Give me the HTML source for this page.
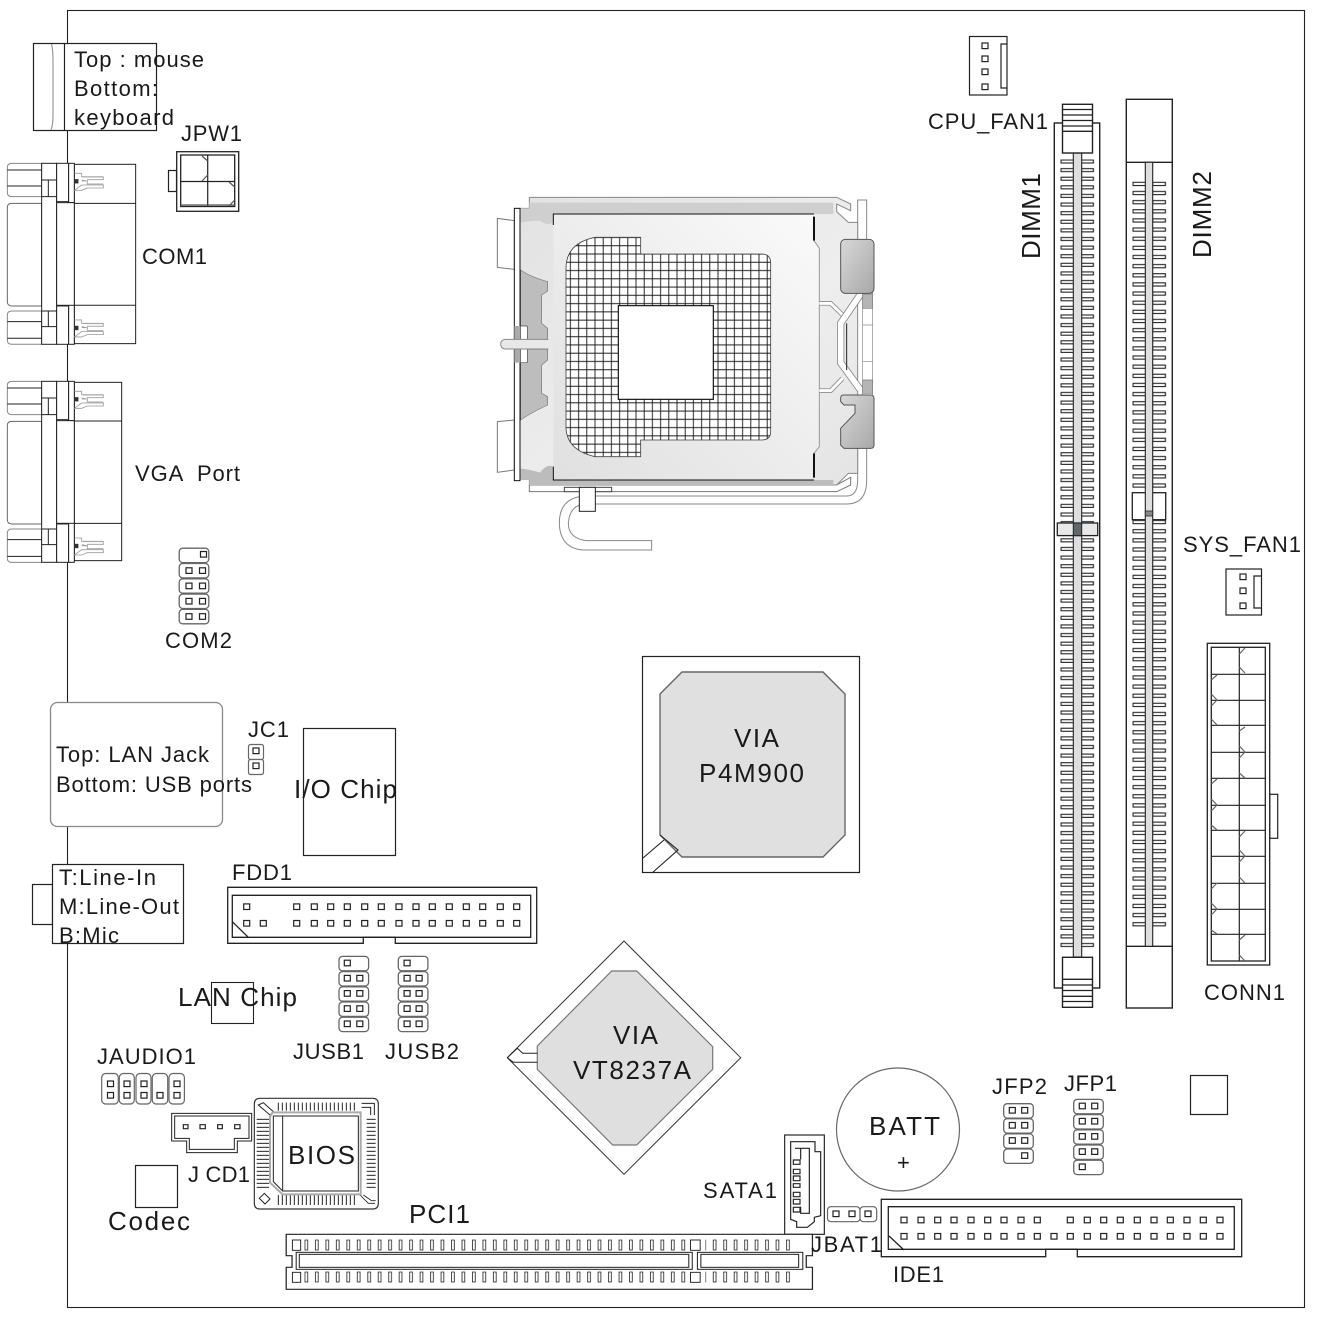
<!DOCTYPE html>
<html><head><meta charset="utf-8"><style>
html,body{margin:0;padding:0;background:#fff}
svg{display:block}
text{font-family:"Liberation Sans",sans-serif;font-size:22px;fill:#1a1a1a}
.b{font-size:26px}
</style></head><body>
<svg xmlns="http://www.w3.org/2000/svg" width="1317" height="1317" viewBox="0 0 1317 1317">
<defs>
<pattern id="t1" patternUnits="userSpaceOnUse" x="1060.3" y="159.3" width="34" height="8.61"><rect x=".7" y=".7" width="13" height="3" fill="#fff" stroke="#222" stroke-width="1.1"/><rect x="20.4" y=".7" width="12.6" height="3" fill="#fff" stroke="#222" stroke-width="1.1"/></pattern>
<pattern id="t2" patternUnits="userSpaceOnUse" x="1132.3" y="181.6" width="34" height="9.14"><rect x=".7" y=".7" width="13" height="3.2" fill="#fff" stroke="#222" stroke-width="1.1"/><rect x="20.4" y=".7" width="12.6" height="3.2" fill="#fff" stroke="#222" stroke-width="1.1"/></pattern>
<pattern id="grid" patternUnits="userSpaceOnUse" x="258.9" y="160" width="24.6" height="24.8"><path d="M12.3 0V24.8M0 12.4H24.6" stroke="#1a1a1a" stroke-width="2.8" fill="none"/></pattern>
<pattern id="pp" patternUnits="userSpaceOnUse" x="71" y="0" width="30.4" height="40"><rect x="1.5" y="2" width="8" height="30" fill="#fff" stroke="#222" stroke-width="2.4"/></pattern>
<pattern id="bh" patternUnits="userSpaceOnUse" x="562" y="0" width="12" height="10"><path d="M3 0V10" stroke="#222" stroke-width="3"/></pattern>
<pattern id="bv" patternUnits="userSpaceOnUse" x="0" y="175" width="10" height="12"><path d="M0 3H10" stroke="#222" stroke-width="3"/></pattern>
<linearGradient id="gl" x1="0" y1="0" x2="1" y2="1"><stop offset="0" stop-color="#e2e2e2"/><stop offset=".6" stop-color="#eeeeee"/><stop offset="1" stop-color="#e4e4e4"/></linearGradient>
<linearGradient id="gp" x1="0" y1="1" x2="1" y2="0"><stop offset="0" stop-color="#e0e0e0"/><stop offset="1" stop-color="#fafafa"/></linearGradient>
<linearGradient id="gc" x1="0" y1="0" x2="1" y2="1"><stop offset="0" stop-color="#d8d8d8"/><stop offset="1" stop-color="#a8a8a8"/></linearGradient>
<g id="port" fill="#fff" stroke="#222" stroke-width="3">
<path d="M125 400H36Q22 400 22 412V488Q22 500 36 500H125Z" stroke="#888"/><path d="M22 420H125M22 468H125" fill="none"/>
<path d="M125 520H36Q22 520 22 532V815Q22 828 36 828H125Z" stroke="#666"/>
<path d="M125 843H36Q22 843 22 855V931Q22 943 36 943H125Z" stroke="#888"/><path d="M22 875H125M22 925H125" fill="none"/>
<rect x="125" y="400" width="45" height="543"/><path d="M125 450H170M145 450V500M125 500H170M125 843H170M145 843V890M125 890H170" fill="none"/>
<rect x="170" y="400" width="36" height="115"/><rect x="170" y="828" width="36" height="115"/>
<rect x="206" y="400" width="17" height="118"/><rect x="206" y="825" width="17" height="118"/>
<rect x="170" y="518" width="53" height="308"/>
</g>
<g id="pin" fill="#fff"><path d="M223 430H245V440H310M245 450L260 453H245M245 465H310V474H262L245 481H223Z" stroke="#999" stroke-width="2.5"/><path d="M248 441H310V449H262L262 462H310" fill="none" stroke="#aaa" stroke-width="3"/><rect x="223" y="448" width="12" height="12" fill="#333" stroke="#333"/></g>
<g id="cell"><rect x=".7" y=".7" width="29.6" height="14.4" rx="3.5" fill="#fff" stroke="#666" stroke-width="1.3"/></g>
<rect id="p" width="6" height="5.6" fill="#fff" stroke="#222" stroke-width="1.2"/>
</defs>
<rect width="1317" height="1317" fill="#fff"/>
<rect x="67.5" y="10.5" width="1237" height="1297" fill="#fff" stroke="#222" stroke-width="1.1"/>

<!-- PS/2 -->
<rect x="33.5" y="43.5" width="123" height="87" fill="#fff" stroke="#222" stroke-width="1.2"/>
<path d="M51.5 44Q53 50 53 60V115Q53 125 51 130" fill="none" stroke="#999" stroke-width="1.2"/>
<path d="M64.5 44V130" stroke="#222" stroke-width="1.2"/>

<!-- COM1 -->
<g transform="translate(0,30) scale(.3333)">
<rect x="223" y="403" width="184" height="538" fill="#fff" stroke="#222" stroke-width="3"/><path d="M223 520H407M223 826H407" stroke="#222" stroke-width="3"/>
<use href="#port"/><use href="#pin"/><use href="#pin" y="440"/>
</g>
<!-- VGA -->
<g transform="translate(0,370) scale(.3333)">
<rect x="223" y="37" width="142" height="535" fill="#fff" stroke="#222" stroke-width="3"/><path d="M223 153H365M223 460H365" stroke="#222" stroke-width="3"/>
<g transform="translate(0,-366)"><use href="#port"/><use href="#pin"/><use href="#pin" y="440"/></g>
</g>

<!-- JPW1 -->
<rect x="168.5" y="170.5" width="8" height="21" fill="#fff" stroke="#222" stroke-width="1.2"/>
<rect x="176.7" y="151.7" width="62" height="59.6" fill="#fff" stroke="#222" stroke-width="1.3"/>
<rect x="180.7" y="155" width="54" height="51.5" fill="#fff" stroke="#222" stroke-width="1.3"/>
<path d="M207.7 155V206.5M180.7 181.5H234.7" stroke="#222" stroke-width="1.2"/>
<path d="M202 156L207.7 161M202 181L207.7 175M229 182L234.7 187M229 206L234.7 200M180.7 205H234.7" fill="none" stroke="#555" stroke-width="1.2"/>

<!-- CPU socket -->
<g transform="translate(480,180) scale(.33333)">
<rect x="1133" y="60" width="27" height="130" fill="#fff" stroke="#888" stroke-width="3"/>
<path d="M1160 800V900Q1160 972 1100 972H340V948H1100Q1133 948 1133 900V800Z" fill="#fff" stroke="#888" stroke-width="3"/>
<path d="M148 915V935H1070L1112 915V892L1070 915" fill="#fff" stroke="#777" stroke-width="3"/>
<rect x="253" y="922" width="142" height="13" fill="#fff" stroke="#444" stroke-width="3"/>
<path d="M300 950Q238 960 238 1030Q240 1105 310 1110H515V1082H320Q265 1075 265 1030Q268 985 300 975Z" fill="#fff" stroke="#888" stroke-width="3"/>
<path d="M148 52H1070L1112 72V92L1070 72V95L1105 127H1133V880H1105L1070 915H148V890H120V85H148Z" fill="url(#gl)" stroke="#888" stroke-width="3"/>
<path d="M120 85H148V68H1060V102H220V128Q200 138 180 122Q150 122 122 128Z" fill="#cfcfcf"/>
<path d="M122 866Q150 868 180 878Q200 850 220 860V900H1060V915H148V900H122Z" fill="#bcbcbc"/>
<path d="M52 115L103 122V268L52 262Z M52 725L103 720V870L52 877Z" fill="#fff" stroke="#777" stroke-width="3"/>
<path d="M122 270Q150 290 203 305V333L185 345V430L203 445V478H142V438H122Z" fill="#bdbdbd" stroke="#777" stroke-width="2"/>
<path d="M122 720Q150 700 203 675V650L185 640V555L203 540V508H142V548H122Z" fill="#bdbdbd" stroke="#777" stroke-width="2"/>
<rect x="103" y="85" width="17" height="817" fill="#fff" stroke="#111" stroke-width="3"/>
<rect x="103" y="438" width="19" height="110" fill="#aaa"/>
<rect x="122" y="438" width="20" height="110" rx="3" fill="#fff" stroke="#555" stroke-width="2"/>
<path d="M205 478H75Q62 480 62 492Q62 505 75 507H205" fill="#e8e8e8" stroke="#888" stroke-width="3"/>
<path d="M220 102H1002V182L1018 205V800L1002 820V900H220Z" fill="url(#gp)"/>
<path d="M1002 182L1018 205V800L1002 820" fill="none" stroke="#999" stroke-width="3"/>
<path d="M220 135V102H1002M220 860V900H1002" fill="none" stroke="#111" stroke-width="3"/>
<path d="M1002 110V182M1002 820V893" stroke="#111" stroke-width="6"/>
<path d="M345 172H482V222H845Q872 222 872 250V755Q872 780 845 780H482V830H345Q258 810 258 740V265Q258 190 345 172Z" fill="#fff"/>
<path d="M345 172H482V222H845Q872 222 872 250V755Q872 780 845 780H482V830H345Q258 810 258 740V265Q258 190 345 172Z" fill="url(#grid)" stroke="#444" stroke-width="2.5"/>
<rect x="415" y="377" width="285" height="281" fill="#fff" stroke="#111" stroke-width="3.5"/>
<path d="M1018 370H1052L1088 405M1018 632H1052L1088 595" fill="none" stroke="#888" stroke-width="14"/>
<path d="M1018 370H1052L1088 405M1018 632H1052L1088 595" fill="none" stroke="#fff" stroke-width="9"/>
<rect x="1148" y="338" width="30" height="310" fill="#fff" stroke="#888" stroke-width="2"/>
<path d="M1148 342H1178V385H1148ZM1148 600H1178V640H1148Z" fill="#b5b5b5" stroke="#777" stroke-width="2"/>
<path d="M1148 435H1178M1148 545H1178" stroke="#888" stroke-width="2"/>
<path d="M1140 345L1082 430V548L1140 628" fill="none" stroke="#888" stroke-width="22"/>
<path d="M1140 345L1082 430V548L1140 628" fill="none" stroke="#fff" stroke-width="17"/>
<path d="M1100 430V570" stroke="#222" stroke-width="3"/>
<rect x="1082" y="178" width="100" height="162" rx="14" fill="url(#gc)" stroke="#555" stroke-width="3"/>
<path d="M1090 645H1172Q1182 645 1182 655V795Q1182 805 1172 805H1092L1082 795V745L1125 700V675H1092L1082 665V655Q1082 645 1090 645Z" fill="url(#gc)" stroke="#555" stroke-width="3"/>
<rect x="298" y="922" width="48" height="72" fill="#fff" stroke="#222" stroke-width="3"/>
</g>

<!-- CPU fan -->
<rect x="969.5" y="36.5" width="37.5" height="58.5" fill="#fff" stroke="#222" stroke-width="1.2"/>
<path d="M1007 44H1001V88H1007" fill="none" stroke="#222" stroke-width="1.2"/>
<use href="#p" x="982" y="43"/><use href="#p" x="982" y="56"/><use href="#p" x="982" y="69"/><use href="#p" x="982" y="84"/>

<!-- DIMM1 -->
<rect x="1054.3" y="123" width="45.4" height="865" fill="#fff" stroke="#222" stroke-width="1.4"/>
<rect x="1060.3" y="159.3" width="34" height="790" fill="url(#t1)"/>
<rect x="1073.3" y="153" width="8.4" height="804" fill="#dedede" stroke="#222" stroke-width="1.1"/>
<rect x="1057.3" y="523" width="40.4" height="12.6" fill="#e8e8e8" stroke="#222" stroke-width="1.3"/>
<rect x="1073.3" y="523" width="8.4" height="12.6" fill="#60666a" stroke="#222" stroke-width="1"/>
<rect x="1062.5" y="104.3" width="30" height="48.7" fill="#fff" stroke="#222" stroke-width="1.4"/>
<path d="M1062.5 109.5H1092.5M1062.5 115H1092.5M1062.5 120.5H1092.5M1062.5 126H1092.5M1062.5 131.3H1092.5" stroke="#222" stroke-width="1.3"/>
<rect x="1062.5" y="957.3" width="30" height="50" fill="#fff" stroke="#222" stroke-width="1.4"/>
<path d="M1062.5 979.3H1092.5M1062.5 985H1092.5M1062.5 990.5H1092.5M1062.5 996.3H1092.5M1062.5 1001.5H1092.5" stroke="#222" stroke-width="1.3"/>

<!-- DIMM2 -->
<rect x="1126.3" y="99.3" width="46" height="908.7" fill="#fff" stroke="#222" stroke-width="1.4"/>
<path d="M1126.3 162.3H1172.3M1126.3 946.3H1172.3" stroke="#222" stroke-width="1.4"/>
<rect x="1132.3" y="181.6" width="34" height="748" fill="url(#t2)"/>
<rect x="1132.3" y="492.7" width="33.4" height="27" fill="#fff" stroke="#222" stroke-width="1.3"/>
<rect x="1145.3" y="162.3" width="7.4" height="784" fill="#dedede" stroke="#222" stroke-width="1.1"/>
<rect x="1145.3" y="511" width="7.4" height="5" fill="#888" stroke="#222" stroke-width=".8"/>

<!-- SYS fan -->
<rect x="1226" y="569" width="35.5" height="46" fill="#fff" stroke="#222" stroke-width="1.2"/>
<path d="M1261.5 576H1254V608H1261.5" fill="none" stroke="#222" stroke-width="1.2"/>
<use href="#p" x="1240" y="574"/><use href="#p" x="1240" y="588"/><use href="#p" x="1240" y="603"/>

<!-- CONN1 -->
<rect x="1269.7" y="794.3" width="8" height="44" fill="#fff" stroke="#222" stroke-width="1.2"/>
<rect x="1207.3" y="643.3" width="62.4" height="321.7" fill="#fff" stroke="#222" stroke-width="1.3"/>
<rect x="1211.3" y="647.3" width="54" height="313.7" fill="#fff" stroke="#222" stroke-width="1.3"/>
<path d="M1239.3 647V961M1211.3 674.3H1265.3M1211.3 700.3H1265.3M1211.3 725.3H1265.3M1211.3 752.3H1265.3M1211.3 778.3H1265.3M1211.3 805.3H1265.3M1211.3 830.3H1265.3M1211.3 856.3H1265.3M1211.3 883.3H1265.3M1211.3 909.3H1265.3M1211.3 934.3H1265.3" stroke="#222" stroke-width="1.2"/>
<path d="M1239.3 654L1245 648M1239.3 667L1245 673M1211.3 680L1217 675M1211.3 694L1217 700L1211.3 706M1211.3 719L1217 725M1239.3 731L1245 727M1239.3 746L1245 752L1239.3 758M1239.3 773L1245 778M1211.3 784L1217 779M1211.3 799L1217 805L1211.3 811M1211.3 825L1217 830M1239.3 837L1245 831M1239.3 850L1245 856L1239.3 862M1239.3 877L1245 883M1211.3 889L1217 883M1211.3 903L1217 909L1211.3 915M1211.3 930L1217 934M1239.3 940L1245 935M1239.3 955L1245 961" fill="none" stroke="#666" stroke-width="1.2"/>

<!-- COM2 -->
<g transform="translate(178.5,547.5)"><use href="#cell"/><use href="#p" x="22" y="4"/></g>
<g transform="translate(178.5,562.8)"><use href="#cell"/><use href="#p" x="7.5" y="5"/><use href="#p" x="21" y="5"/></g>
<g transform="translate(178.5,578.1)"><use href="#cell"/><use href="#p" x="7.5" y="5"/><use href="#p" x="21" y="5"/></g>
<g transform="translate(178.5,593.4)"><use href="#cell"/><use href="#p" x="7.5" y="5"/><use href="#p" x="21" y="5"/></g>
<g transform="translate(178.5,608.7)"><use href="#cell"/><use href="#p" x="7.5" y="5"/><use href="#p" x="21" y="5"/></g>

<!-- LAN jack -->
<rect x="50.5" y="702.5" width="172" height="124" rx="7" fill="#fff" stroke="#888" stroke-width="1.3"/>
<!-- JC1 -->
<rect x="248.5" y="744.5" width="15" height="15" rx="2" fill="#fff" stroke="#666" stroke-width="1.2"/>
<rect x="248.5" y="759.5" width="15" height="15" rx="2" fill="#fff" stroke="#666" stroke-width="1.2"/>
<use href="#p" x="253" y="748"/><use href="#p" x="253" y="763"/>
<!-- IO chip -->
<rect x="303.5" y="728.5" width="92" height="127" fill="#fff" stroke="#222" stroke-width="1.2"/>

<!-- P4M900 -->
<rect x="642.5" y="656.5" width="217" height="216" fill="#fff" stroke="#222" stroke-width="1.2"/>
<path d="M660 694L682 672H823L845 694V835L823 857H682L660 835Z" fill="#e0e0e0" stroke="#666" stroke-width="1.4"/>
<path d="M643 858L664 840M652 873L678 850L660 835" fill="none" stroke="#222" stroke-width="1.1"/>

<!-- Audio -->
<rect x="32.5" y="884.5" width="20" height="40" fill="#fff" stroke="#222" stroke-width="1.2"/>
<rect x="52.5" y="864.5" width="131" height="79" fill="#fff" stroke="#222" stroke-width="1.2"/>

<!-- FDD -->
<path d="M227.7 887.3H536.7V943.3H395.3V937.3H363.3V943.3H227.7Z" fill="#fff" stroke="#222" stroke-width="1.3"/>
<path d="M232.3 895.3H530.7V937.3H232.3Z M232.3 921.7L248.3 937.3" fill="none" stroke="#222" stroke-width="1.3"/>
<g transform="translate(-3,-2.8)">
<use href="#p" x="246.7" y="906.7"/><use href="#p" x="296.7" y="906.7"/><use href="#p" x="314.3" y="906.7"/><use href="#p" x="330.7" y="906.7"/><use href="#p" x="347.3" y="906.7"/><use href="#p" x="364.7" y="906.7"/><use href="#p" x="381.3" y="906.7"/><use href="#p" x="399" y="906.7"/><use href="#p" x="416" y="906.7"/><use href="#p" x="432.3" y="906.7"/><use href="#p" x="449.3" y="906.7"/><use href="#p" x="466.3" y="906.7"/><use href="#p" x="482.7" y="906.7"/><use href="#p" x="500.3" y="906.7"/><use href="#p" x="516.7" y="906.7"/>
<use href="#p" x="246.7" y="923.3"/><use href="#p" x="263.3" y="923.3"/><use href="#p" x="296.7" y="923.3"/><use href="#p" x="314.3" y="923.3"/><use href="#p" x="330.7" y="923.3"/><use href="#p" x="347.3" y="923.3"/><use href="#p" x="364.7" y="923.3"/><use href="#p" x="381.3" y="923.3"/><use href="#p" x="399" y="923.3"/><use href="#p" x="416" y="923.3"/><use href="#p" x="432.3" y="923.3"/><use href="#p" x="449.3" y="923.3"/><use href="#p" x="466.3" y="923.3"/><use href="#p" x="482.7" y="923.3"/><use href="#p" x="500.3" y="923.3"/><use href="#p" x="516.7" y="923.3"/>
</g>

<!-- JUSB1 -->
<g transform="translate(338.3,955.7)"><use href="#cell"/><use href="#p" x="6" y="4.5"/></g>
<g transform="translate(338.3,970.9)"><use href="#cell"/><use href="#p" x="6" y="4.5"/><use href="#p" x="18.5" y="4.5"/></g>
<g transform="translate(338.3,986.1)"><use href="#cell"/><use href="#p" x="6" y="4.5"/><use href="#p" x="18.5" y="4.5"/></g>
<g transform="translate(338.3,1001.3)"><use href="#cell"/><use href="#p" x="6" y="4.5"/><use href="#p" x="18.5" y="4.5"/></g>
<g transform="translate(338.3,1016.5)"><use href="#cell"/><use href="#p" x="6" y="4.5"/><use href="#p" x="18.5" y="4.5"/></g>
<!-- JUSB2 -->
<g transform="translate(397.6,955.7)"><use href="#cell"/><use href="#p" x="6.5" y="4.5"/></g>
<g transform="translate(397.6,970.9)"><use href="#cell"/><use href="#p" x="6.5" y="4.5"/><use href="#p" x="18.5" y="4.5"/></g>
<g transform="translate(397.6,986.1)"><use href="#cell"/><use href="#p" x="6.5" y="4.5"/><use href="#p" x="18.5" y="4.5"/></g>
<g transform="translate(397.6,1001.3)"><use href="#cell"/><use href="#p" x="6.5" y="4.5"/><use href="#p" x="18.5" y="4.5"/></g>
<g transform="translate(397.6,1016.5)"><use href="#cell"/><use href="#p" x="6.5" y="4.5"/><use href="#p" x="18.5" y="4.5"/></g>

<!-- VT8237A -->
<path d="M624 941L740.7 1057.7L624 1174.3L507.3 1057.7Z" fill="#fff" stroke="#333" stroke-width="1"/>
<path d="M611.7 971H636.7L712.7 1046.7V1069.3L636.7 1145H612.7L537.3 1069.3V1046L611.7 971Z" fill="#dfdfdf" stroke="#777" stroke-width="1.2"/>
<path d="M507.3 1057.7L517.3 1048.3L522.7 1053.3H537.3M507.3 1057.7L513.3 1062.3H537.3" fill="none" stroke="#222" stroke-width="1"/>

<!-- LAN chip -->
<rect x="211.5" y="982.5" width="42" height="41" fill="#fff" stroke="#222" stroke-width="1.1"/>

<!-- JAUDIO1 -->
<g fill="#fff" stroke="#666" stroke-width="1.2">
<rect x="101.7" y="1073.5" width="16.6" height="30.5" rx="4"/><rect x="119.3" y="1073.5" width="15" height="30.5" rx="4"/><rect x="136" y="1073.5" width="15" height="30.5" rx="4"/><rect x="152.3" y="1073.5" width="15.4" height="30.5" rx="4"/><rect x="169" y="1073.5" width="15.4" height="30.5" rx="4"/>
</g>
<use href="#p" x="107.5" y="1081"/><use href="#p" x="107.5" y="1092.5"/><use href="#p" x="124" y="1081"/><use href="#p" x="124" y="1092.5"/><use href="#p" x="141" y="1081"/><use href="#p" x="141" y="1092.5"/><use href="#p" x="157" y="1092.5"/><use href="#p" x="174" y="1081"/><use href="#p" x="174" y="1092.5"/>

<!-- JCD1 -->
<g transform="translate(90,1060) scale(.33333)">
<path d="M245 160H485V243H442V278H290V243H245Z" fill="#fff" stroke="#222" stroke-width="3"/>
<path d="M254 168H477V235H433V268H298V235H254Z" fill="none" stroke="#222" stroke-width="3"/>
<path d="M280 194H294V206H280ZM330 194H346V206H330ZM383 194H397V206H383ZM434 194H450V206H434Z" fill="#fff" stroke="#222" stroke-width="3.6"/>
<!-- BIOS -->
<path d="M510 115H848Q865 115 865 132V430Q865 447 848 447H510Q493 447 493 430V132Q493 115 510 115Z" fill="#fff" stroke="#333" stroke-width="3.5"/>
<rect x="562" y="128" width="235" height="24" fill="url(#bh)"/>
<rect x="562" y="405" width="235" height="30" fill="url(#bh)"/>
<rect x="500" y="175" width="37" height="210" fill="url(#bv)"/>
<rect x="830" y="175" width="27" height="210" fill="url(#bv)"/>
<path d="M505 135L520 128L550 155L540 165Z" fill="#fff" stroke="#222" stroke-width="3"/>
<path d="M815 130H853V165M815 142H842V165" fill="none" stroke="#222" stroke-width="3"/>
<path d="M508 415L523 400L540 417L525 432Z" fill="#fff" stroke="#222" stroke-width="3"/>
<path d="M810 405L835 430H855M820 405L845 422H857" fill="none" stroke="#222" stroke-width="2.5"/>
<path d="M548 157H812V403H578L540 368V170Z" fill="#fff" stroke="#aaa" stroke-width="6"/>
<path d="M550 168H805V393H578L550 365Z M578 168V393" fill="none" stroke="#222" stroke-width="3"/>
</g>

<!-- Codec -->
<rect x="135.5" y="1165.5" width="42" height="42" fill="#fff" stroke="#222" stroke-width="1.2"/>

<!-- BATT -->
<circle cx="898" cy="1129.5" r="61.5" fill="#fff" stroke="#666" stroke-width="1.2"/>

<!-- JFP2 -->
<g transform="translate(1003,1103)"><use href="#cell"/><use href="#p" x="6.3" y="4.5"/><use href="#p" x="18.7" y="4.5"/></g>
<g transform="translate(1003,1118)"><use href="#cell"/><use href="#p" x="6.3" y="4.5"/><use href="#p" x="18.7" y="4.5"/></g>
<g transform="translate(1003,1133.2)"><use href="#cell"/><use href="#p" x="6.3" y="4.5"/><use href="#p" x="18.7" y="4.5"/></g>
<g transform="translate(1003,1148.3)"><use href="#cell"/><use href="#p" x="18.7" y="4.5"/></g>
<!-- JFP1 -->
<g transform="translate(1073,1098.7)"><use href="#cell"/><use href="#p" x="6.3" y="4.5"/><use href="#p" x="18.7" y="4.5"/></g>
<g transform="translate(1073,1113.9)"><use href="#cell"/><use href="#p" x="6.3" y="4.5"/><use href="#p" x="18.7" y="4.5"/></g>
<g transform="translate(1073,1129.1)"><use href="#cell"/><use href="#p" x="6.3" y="4.5"/><use href="#p" x="18.7" y="4.5"/></g>
<g transform="translate(1073,1144.3)"><use href="#cell"/><use href="#p" x="6.3" y="4.5"/><use href="#p" x="18.7" y="4.5"/></g>
<g transform="translate(1073,1159.5)"><use href="#cell"/><use href="#p" x="6.3" y="4.5"/></g>

<rect x="1190.5" y="1075.5" width="37" height="39" fill="#fff" stroke="#222" stroke-width="1.2"/>

<!-- SATA -->
<g transform="translate(780,1130) scale(.33333)">
<rect x="14" y="15" width="119" height="298" fill="#fff" stroke="#222" stroke-width="3.5"/>
<path d="M32 35H105V65H122V257L103 262V275L82 292H50V275L32 268Z" fill="#fff" stroke="#222" stroke-width="3.5"/>
<path d="M45 55H88V250H62V230M62 88V55" fill="none" stroke="#222" stroke-width="3.5"/>
<path d="M40 90H60V103H40ZM40 118H60V131H40ZM40 138H60V152H40ZM40 161H60V172H40ZM40 187H60V200H40ZM40 208H60V222H40ZM40 232H60V246H40Z" fill="#fff" stroke="#222" stroke-width="3.5"/>
</g>

<!-- JBAT1 -->
<rect x="827.5" y="1206.7" width="32.5" height="15" rx="3.5" fill="#fff" stroke="#666" stroke-width="1.2"/>
<rect x="860" y="1206.7" width="16.7" height="15" rx="3.5" fill="#fff" stroke="#666" stroke-width="1.2"/>
<use href="#p" x="833" y="1211"/><use href="#p" x="849" y="1211"/><use href="#p" x="865" y="1211"/>

<!-- IDE -->
<path d="M881.3 1199.3H1241.7V1256.7H1077.3V1249.3H1045.7V1256.7H881.3Z" fill="#fff" stroke="#222" stroke-width="1.3"/>
<path d="M888.3 1206.7H1234.3V1249.3H888.3Z M889 1236L904 1250" fill="none" stroke="#222" stroke-width="1.3"/>
<g transform="translate(-3,-2.8)">
<use href="#p" x="904" y="1220"/><use href="#p" x="921" y="1220"/><use href="#p" x="937.7" y="1220"/><use href="#p" x="954" y="1220"/><use href="#p" x="971" y="1220"/><use href="#p" x="987.7" y="1220"/><use href="#p" x="1004" y="1220"/><use href="#p" x="1021" y="1220"/><use href="#p" x="1037.3" y="1220"/><use href="#p" x="1070.3" y="1220"/><use href="#p" x="1087.3" y="1220"/><use href="#p" x="1103.7" y="1220"/><use href="#p" x="1120.3" y="1220"/><use href="#p" x="1137.3" y="1220"/><use href="#p" x="1154" y="1220"/><use href="#p" x="1170.3" y="1220"/><use href="#p" x="1187" y="1220"/><use href="#p" x="1203.3" y="1220"/><use href="#p" x="1220" y="1220"/>
<use href="#p" x="904" y="1236.3"/><use href="#p" x="921" y="1236.3"/><use href="#p" x="937.7" y="1236.3"/><use href="#p" x="954" y="1236.3"/><use href="#p" x="971" y="1236.3"/><use href="#p" x="987.7" y="1236.3"/><use href="#p" x="1004" y="1236.3"/><use href="#p" x="1021" y="1236.3"/><use href="#p" x="1037.3" y="1236.3"/><use href="#p" x="1054" y="1236.3"/><use href="#p" x="1070.3" y="1236.3"/><use href="#p" x="1087.3" y="1236.3"/><use href="#p" x="1103.7" y="1236.3"/><use href="#p" x="1120.3" y="1236.3"/><use href="#p" x="1137.3" y="1236.3"/><use href="#p" x="1154" y="1236.3"/><use href="#p" x="1170.3" y="1236.3"/><use href="#p" x="1187" y="1236.3"/><use href="#p" x="1203.3" y="1236.3"/><use href="#p" x="1220" y="1236.3"/>
</g>

<!-- PCI -->
<g transform="translate(280,1225) scale(.3444,.3333)">
<path d="M18 28H1546V92H1528V127H1546V193H18V127H35V92H18Z" fill="#fff" stroke="#222" stroke-width="3.6"/>
<rect x="36" y="45" width="24" height="31" fill="#fff" stroke="#222" stroke-width="2.8"/>
<rect x="36" y="142" width="24" height="30" fill="#fff" stroke="#222" stroke-width="2.8"/>
<rect x="1192" y="45" width="28" height="31" fill="#fff" stroke="#222" stroke-width="2.8"/>
<rect x="1192" y="142" width="28" height="30" fill="#fff" stroke="#222" stroke-width="2.8"/>
<g transform="translate(0,43)"><rect x="71" y="0" width="1107" height="36" fill="url(#pp)"/><rect x="1235" y="0" width="262" height="36" fill="url(#pp)"/></g>
<g transform="translate(0,139)"><rect x="71" y="0" width="1107" height="36" fill="url(#pp)"/><rect x="1235" y="0" width="262" height="36" fill="url(#pp)"/></g>
<rect x="47" y="82" width="1150" height="51" fill="#fff" stroke="#222" stroke-width="3"/><rect x="56" y="88" width="1131" height="39" fill="#fff" stroke="#222" stroke-width="3"/>
<rect x="1212" y="82" width="306" height="51" fill="#fff" stroke="#222" stroke-width="3"/><rect x="1222" y="88" width="284" height="39" fill="#fff" stroke="#222" stroke-width="3"/>
</g>

<!-- Text -->
<text x="74" y="67" textLength="130">Top : mouse</text>
<text x="74" y="96" textLength="84">Bottom:</text>
<text x="74" y="125" textLength="100">keyboard</text>
<text x="181" y="141" textLength="61">JPW1</text>
<text x="142" y="264" textLength="65">COM1</text>
<text x="135" y="481" textLength="105" xml:space="preserve">VGA  Port</text>
<text x="165" y="648" textLength="67">COM2</text>
<text x="248" y="737" textLength="41">JC1</text>
<text x="56" y="762" textLength="153">Top: LAN Jack</text>
<text x="56" y="792" textLength="196">Bottom: USB ports</text>
<text class="b" x="294" y="798" textLength="103">I/O Chip</text>
<text x="232" y="880" textLength="60">FDD1</text>
<text x="59" y="885" textLength="97">T:Line-In</text>
<text x="59" y="914" textLength="120">M:Line-Out</text>
<text x="59" y="943" textLength="60">B:Mic</text>
<text class="b" x="178" y="1006" textLength="119">LAN Chip</text>
<text x="293" y="1059" textLength="71">JUSB1</text>
<text x="385" y="1059" textLength="74">JUSB2</text>
<text x="97" y="1064" textLength="99">JAUDIO1</text>
<text x="188" y="1182" textLength="62" xml:space="preserve">J CD1</text>
<text class="b" x="288" y="1164" textLength="67">BIOS</text>
<text class="b" x="108" y="1230" textLength="82">Codec</text>
<text class="b" x="409" y="1223" textLength="61">PCI1</text>
<text x="703" y="1198" textLength="74">SATA1</text>
<text x="811" y="1252" textLength="71">JBAT1</text>
<text x="893" y="1282" textLength="51">IDE1</text>
<text x="992" y="1094" textLength="55">JFP2</text>
<text x="1064" y="1091" textLength="53">JFP1</text>
<text class="b" x="869" y="1135" textLength="71">BATT</text>
<text x="897" y="1170">+</text>
<text x="1204" y="1000" textLength="81">CONN1</text>
<text x="1183" y="552" textLength="118">SYS_FAN1</text>
<text x="928" y="129" textLength="120">CPU_FAN1</text>
<text class="b" transform="translate(1040,259) rotate(-90)" textLength="86">DIMM1</text>
<text class="b" transform="translate(1211,258) rotate(-90)" textLength="87">DIMM2</text>
<text class="b" x="734" y="747" textLength="45">VIA</text>
<text class="b" x="699" y="782" textLength="105">P4M900</text>
<text class="b" x="613" y="1044" textLength="45">VIA</text>
<text class="b" x="573" y="1079" textLength="118">VT8237A</text>
</svg>
</body></html>
